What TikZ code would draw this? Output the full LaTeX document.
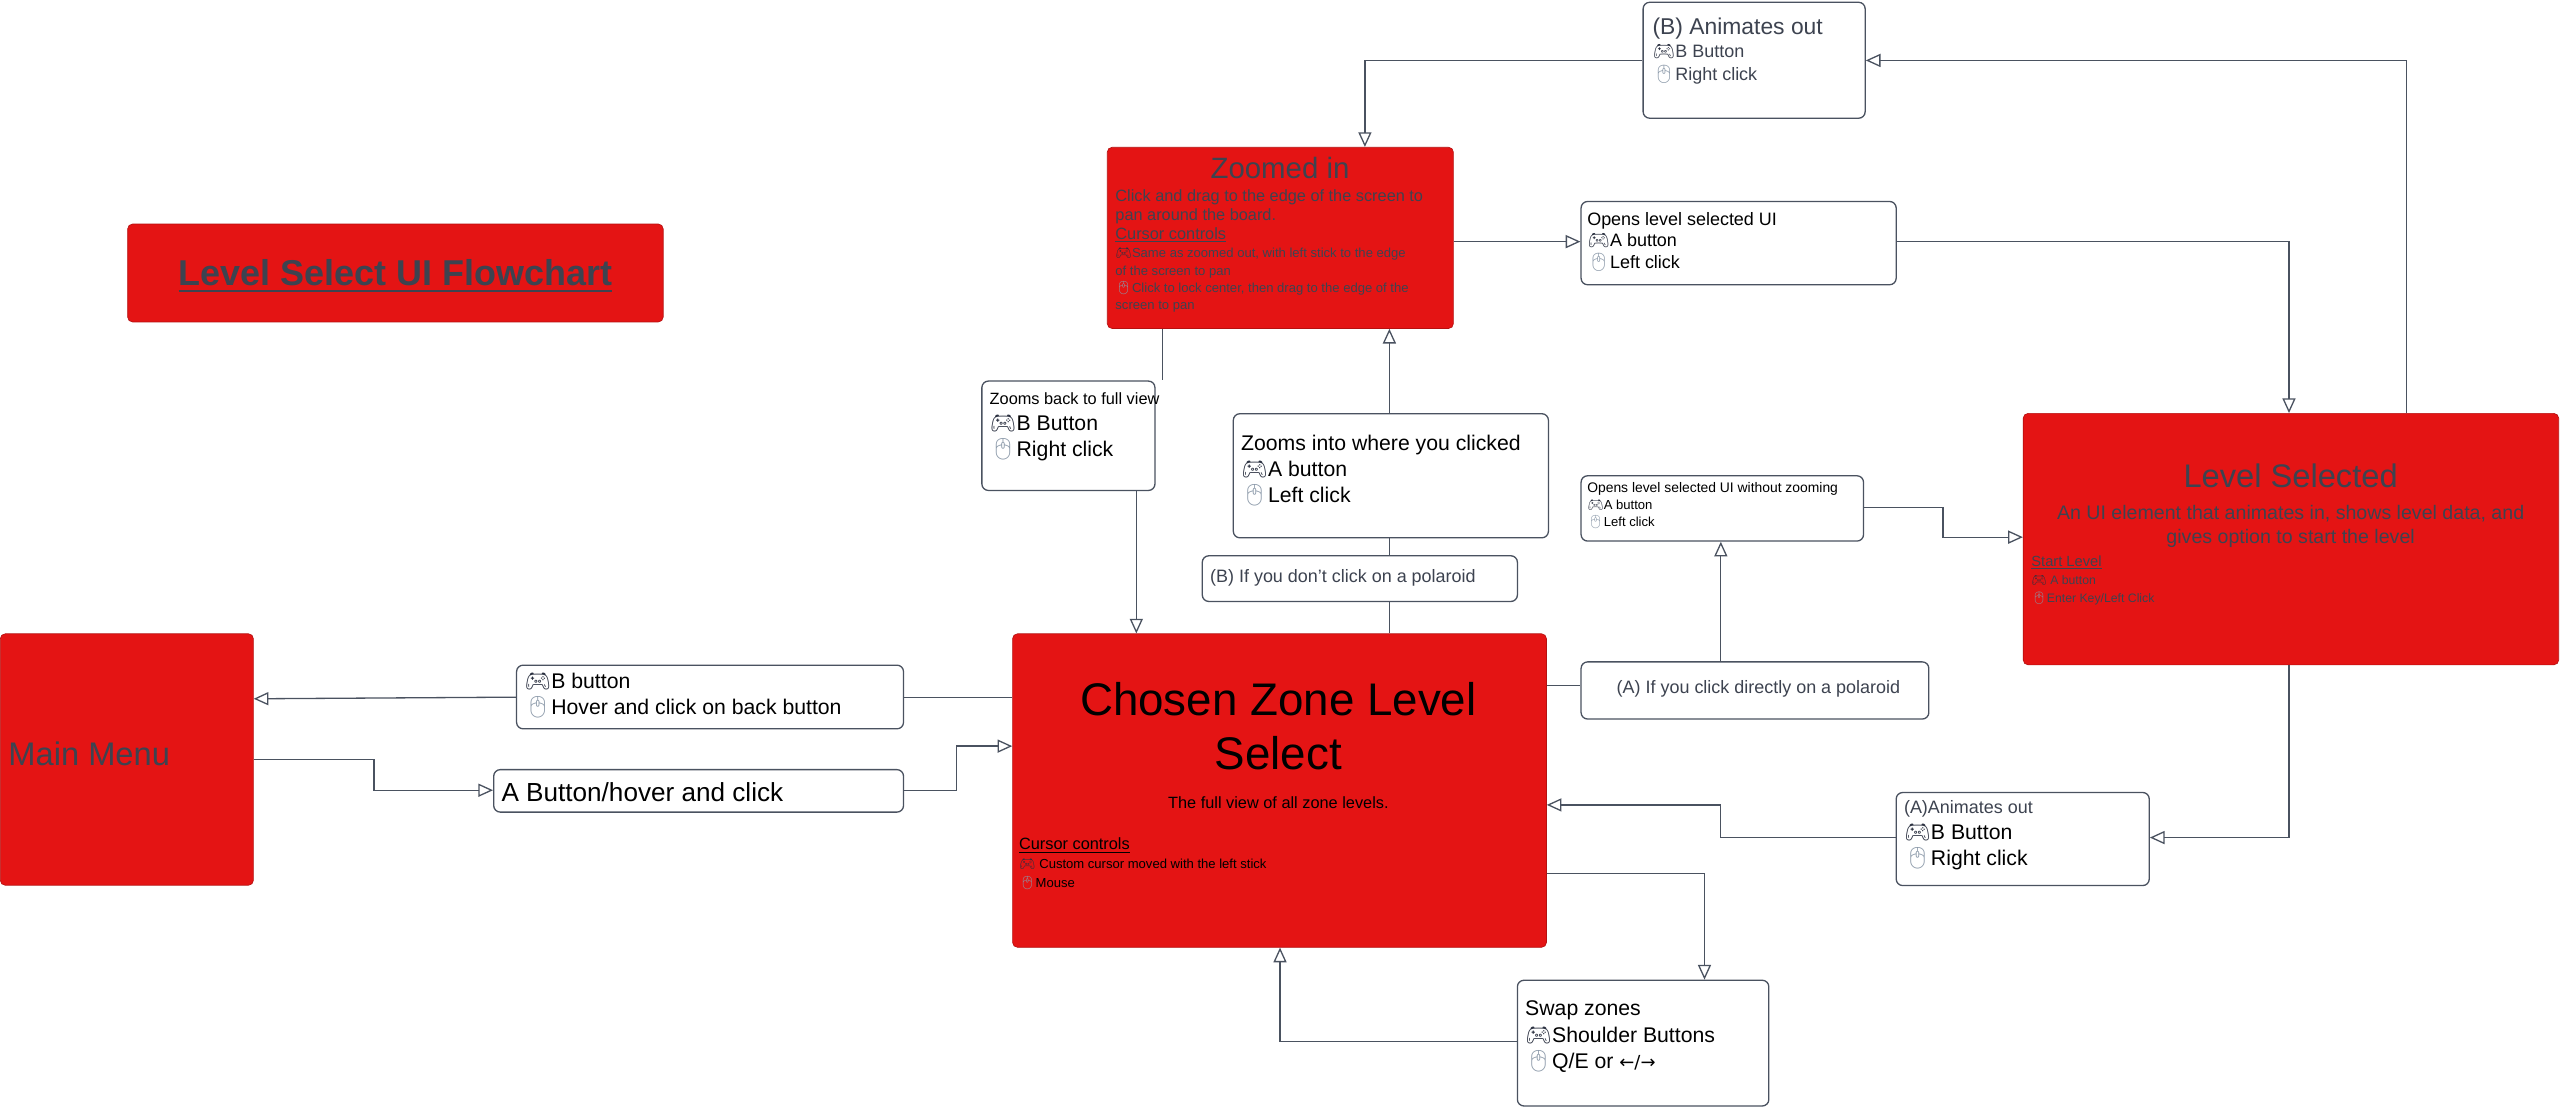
\documentclass[tikz,border=0pt]{standalone}
\usepackage{fontspec}
\setmainfont{Liberation Sans}
\newfontfamily\emo{Noto Emoji}
\newfontfamily\dvs{DejaVu Sans}
\usetikzlibrary{arrows.meta}
\definecolor{boxred}{HTML}{E41414}
\definecolor{dk}{HTML}{3D4350}
\definecolor{lnc}{HTML}{4A5260}
\definecolor{padc}{HTML}{2A3040}
\definecolor{mousec}{HTML}{8A98A8}
\newcommand\fs[2]{\fontsize{#1}{#2}\selectfont}
\newcommand\gpad{{\emo\color{padc}🎮}}
\newcommand\gmouse{{\emo\color{mousec}🖱}}
\tikzset{
  rbox/.style={draw=boxred!80!black, line width=0.4pt, fill=boxred, rounded corners=3pt, anchor=north west, inner sep=0pt},
  wbox/.style={draw=lnc, line width=0.8pt, fill=white, rounded corners=4pt, anchor=north west, inner sep=0pt},
  txt/.style={anchor=north west, align=left, inner sep=0pt},
  ctxt/.style={anchor=north, align=center, inner sep=0pt},
  ln/.style={draw=lnc, line width=0.8pt},
  ar/.style={ln, -{Triangle[open, length=9pt, width=8pt]}},
}
\begin{document}
\begin{tikzpicture}[x=1pt,y=-1pt]
\useasboundingbox[fill=white] (0,0) rectangle (1568,678);
% boxes
\node[rbox, minimum width=328pt, minimum height=60pt] (title) at (78,137) {};
\node[txt, anchor=center, font=\fs{22}{26}\bfseries, text=dk] (titlet) at (title.center) {Level Select UI Flowchart};
\draw[dk, line width=1.5pt] (titlet.base west) ++(0,3) -- ([yshift=-3pt]titlet.base east);

\node[rbox, minimum width=212pt, minimum height=111pt] (zi) at (678,90) {};
\node[ctxt, font=\fs{18}{20}, text=dk] (zit) at (784,96) {Zoomed in};
\node[txt, text=dk, font=\fs{8}{10.5}] (zib) at (683,116) {\fs{10}{12}Click and drag to the edge of the screen to\\[1pt]\fs{10}{12}pan around the board.\\[1pt]\fs{10}{12}\underline{Cursor controls}\\[1pt]
\fs{8}{10}\gpad Same as zoomed out, with left stick to the edge\\\fs{8}{10}of the screen to pan\\\fs{8}{10}\gmouse Click to lock center, then drag to the edge of the\\\fs{8}{10}screen to pan};

\node[rbox, minimum width=328pt, minimum height=154pt] (ls) at (1239,253) {};
\node[ctxt, font=\fs{20}{22}, text=dk] (lst) at (1403,284) {Level Selected};
\node[ctxt, text=dk, font=\fs{12}{15}] (lsd) at (1403,309) {An UI element that animates in, shows level data, and\\gives option to start the level};
\node[txt, text=dk, font=\fs{7.5}{11}] (lsb) at (1244,340) {\fs{9}{11}\underline{Start Level}\\\fs{7.5}{10}\gpad\ A button\\\fs{7.5}{10}\gmouse Enter Key/Left Click};

\node[rbox, minimum width=327pt, minimum height=192pt] (cz) at (620,388) {};
\node[ctxt, font=\fs{28}{33}, text=black] (czt) at (783,418) {Chosen Zone Level\\Select};
\node[ctxt, font=\fs{10}{12}, text=black] (czd) at (783,488) {The full view of all zone levels.};
\node[txt, text=black, font=\fs{8}{11.5}] (czb) at (624,513) {\fs{10}{12}\underline{Cursor controls}\\\fs{8}{10}\gpad\ Custom cursor moved with the left stick\\\fs{8}{10}\gmouse Mouse};

\node[rbox, minimum width=155pt, minimum height=154pt] (mm) at (0,388) {};
\node[txt, anchor=west, font=\fs{20}{22}, text=dk] (mmt) at (5,462) {Main Menu};

% white boxes
\node[wbox, minimum width=136pt, minimum height=71pt] (bao) at (1006,1) {};
\node[txt, text=dk, font=\fs{11}{14}] (baot) at (1012,11) {\fs{14}{16}(B) Animates out\\\fs{11}{13}\gpad B Button\\\fs{11}{13}\gmouse Right click};

\node[wbox, minimum width=193pt, minimum height=51pt] (ol) at (968,123) {};
\node[txt, text=black, font=\fs{11}{13}] (olt) at (972,130) {Opens level selected UI\\\gpad A button\\\gmouse Left click};

\node[wbox, minimum width=106pt, minimum height=67pt] (zb) at (601,233) {};
\node[txt, text=black, font=\fs{13}{16}] (zbt) at (606,240) {\fs{10}{13}Zooms back to full view\\\fs{13}{16}\gpad B Button\\\fs{13}{16}\gmouse Right click};

\node[wbox, minimum width=193pt, minimum height=76pt] (zc) at (755,253) {};
\node[txt, text=black, font=\fs{13}{16}] (zct) at (760,266) {Zooms into where you clicked\\\gpad A button\\\gmouse Left click};

\node[wbox, minimum width=193pt, minimum height=28pt] (bnc) at (736,340) {};
\node[txt, anchor=west, font=\fs{11}{13}, text=dk] (bnct) at (741,354) {(B) If you don't click on a polaroid};

\node[wbox, minimum width=173pt, minimum height=40pt] (ow) at (968,291) {};
\node[txt, text=black, font=\fs{8}{10.5}] (owt) at (972,295) {\fs{8.5}{10}Opens level selected UI without zooming\\\fs{8}{10}\gpad A button\\\fs{8}{10}\gmouse Left click};

\node[wbox, minimum width=213pt, minimum height=35pt] (acd) at (968,405) {};
\node[txt, anchor=west, font=\fs{11}{13}, text=dk] (acdt) at (990,422) {(A) If you click directly on a polaroid};

\node[wbox, minimum width=155pt, minimum height=57pt] (aao) at (1161,485) {};
\node[txt, text=black, font=\fs{13}{16}] (aaot) at (1166,490) {\fs{11}{14}\textcolor{dk}{(A)Animates out}\\\fs{13}{16}\gpad B Button\\\fs{13}{16}\gmouse Right click};

\node[wbox, minimum width=154pt, minimum height=77pt] (sw) at (929,600) {};
\node[txt, text=black, font=\fs{13}{16}] (swt) at (934,613) {Swap zones\\\gpad Shoulder Buttons\\\gmouse Q/E or {\dvs\fs{11}{16}←/→}};

\node[wbox, minimum width=237pt, minimum height=39pt] (bb) at (316,407) {};
\node[txt, text=black, font=\fs{13}{16}] (bbt) at (321,412) {\gpad B button\\\gmouse Hover and click on back button};

\node[wbox, minimum width=251pt, minimum height=26pt] (ab) at (302,471) {};
\node[txt, anchor=west, font=\fs{16}{18}, text=black] (abt) at (307,485) {A Button/hover and click};

% connectors
\draw[ar] (ls.north -| 1474,0) |- (bao.east |- 0,37);
\draw[ar] (bao.west |- 0,37) -| (zi.north -| 836,0);
\draw[ar] (zi.east |- 0,148) -- (ol.west |- 0,148);
\draw[ar] (ol.east |- 0,148) -| (ls.north -| 1402,0);
\draw[ln] (zi.south -| 712,0) -- (zb.north -| 712,0);
\draw[ar] (zb.south -| 696,0) -- (cz.north -| 696,0);
\draw[ln] (cz.north -| 851,0) -- (bnc.south -| 851,0);
\draw[ln] (bnc.north -| 851,0) -- (zc.south -| 851,0);
\draw[ar] (zc.north -| 851,0) -- (zi.south -| 851,0);
\draw[ln] (cz.east |- 0,420) -- (acd.west |- 0,420);
\draw[ar] (acd.north -| 1054,0) -- (ow.south -| 1054,0);
\draw[ar] (ow.east |- 0,311) -- (1190,311) -- (1190,329) -- (ls.west |- 0,329);
\draw[ar] (ls.south -| 1402,0) |- (aao.east |- 0,513);
\draw[ar] (aao.west |- 0,513) -- (1054,513) -- (1054,493) -- (cz.east |- 0,493);
\draw[ar] (cz.east |- 0,535) -| (sw.north -| 1044,0);
\draw[ar] (sw.west |- 0,638) -| (cz.south -| 784,0);
\draw[ln] (cz.west |- 0,427) -- (bb.east |- 0,427);
\draw[ar] (bb.west |- 0,427) -- (mm.east |- 0,428);
\draw[ar] (mm.east |- 0,465) -- (229,465) -- (229,484) -- (ab.west |- 0,484);
\draw[ar] (ab.east |- 0,484) -- (586,484) -- (586,457) -- (cz.west |- 0,457);
\end{tikzpicture}
\end{document}
